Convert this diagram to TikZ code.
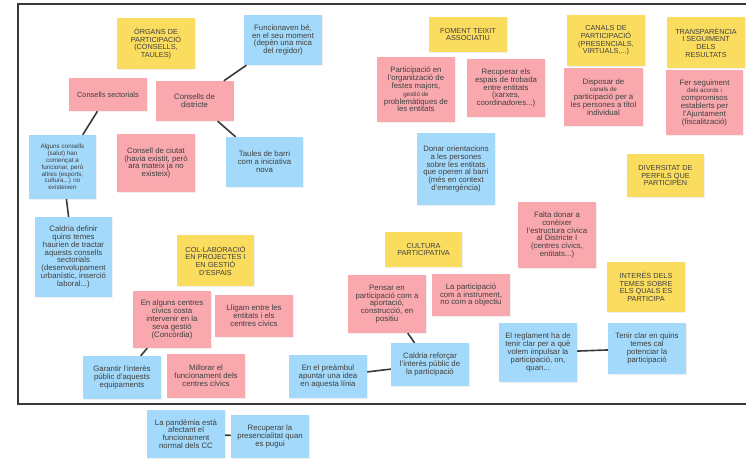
\documentclass[tikz,border=0pt]{standalone}
\usepackage{fontspec}
\setmainfont{Liberation Sans}
\usepackage{tikz}
\usetikzlibrary{shadows}
\definecolor{noteyellow}{HTML}{FADC5E}
\definecolor{notepink}{HTML}{F9A8AE}
\definecolor{noteblue}{HTML}{A3D9FA}
\definecolor{notetext}{HTML}{404040}
\definecolor{frameline}{HTML}{3A3A3A}
\newcommand{\smallline}[1]{{\fontsize{6.2}{7.7}\selectfont #1}}

\begin{document}
\begin{tikzpicture}[x=1pt, y=-1pt,
  postit/.style={minimum width=78, inner sep=1pt, align=center, text=notetext,
    font=\fontsize{7.8}{7.8}\selectfont,
    drop shadow={opacity=0.12, shadow xshift=0.6pt, shadow yshift=-0.8pt}},
  yelnote/.style={postit, fill=noteyellow, font=\fontsize{7.3}{7.6}\selectfont},
  pinknote/.style={postit, fill=notepink},
  bluenote/.style={postit, fill=noteblue},
  tinytext/.style={font=\fontsize{6.3}{6.8}\selectfont},
  link/.style={frameline, line width=1.6pt}]
\useasboundingbox (0,0) rectangle (746,459);
\clip (0,0) rectangle (746,459);
\draw[frameline, line width=1.6pt] (18,4) rectangle (760,404);

\node[yelnote, minimum height=51] (organs) at (156,43.5) {ÒRGANS DE\\PARTICIPACIÓ\\(CONSELLS,\\TAULES)};
\node[bluenote, minimum height=50] (funcionaven) at (283,40) {Funcionaven bé,\\en el seu moment\\(depèn una mica\\del regidor)};
\node[pinknote, minimum height=33, font=\fontsize{7.4}{7.8}\selectfont] (sectorials) at (108,94.5) {Consells sectorials};
\node[pinknote, minimum height=40] (districte) at (194.5,101) {Consells de\\districte};
\node[bluenote, minimum height=64, minimum width=67, tinytext] (alguns) at (62.5,167) {Alguns consells\\(salut) han\\començat a\\funcionar, però\\altres (esports,\\cultura...) no\\existeixen};
\node[pinknote, minimum height=58] (ciutat) at (156,163) {Consell de ciutat\\(havia existit, però\\ara mateix ja no\\existeix)};
\node[bluenote, minimum height=50, minimum width=77] (taules) at (264.5,162) {Taules de barri\\com a iniciativa\\nova};
\node[bluenote, minimum height=80, minimum width=77] (definir) at (73.5,257) {Caldria definir\\quins temes\\haurien de tractar\\aquests consells\\sectorials\\(desenvolupament\\urbanístic, inserció\\laboral...)};

\node[yelnote, minimum height=51, minimum width=77] (collab) at (215.5,260.5) {COL·LABORACIÓ\\EN PROJECTES I\\EN GESTIÓ\\D'ESPAIS};
\node[pinknote, minimum height=57] (centres) at (172,319.5) {En alguns centres\\cívics costa\\intervenir en la\\seva gestió\\(Concòrdia)};
\node[pinknote, minimum height=42] (lligam) at (254,316) {Lligam entre les\\entitats i els\\centres cívics};
\node[bluenote, minimum height=43] (garantir) at (122,377.5) {Garantir l'interès\\públic d'aquests\\equipaments};
\node[pinknote, minimum height=44] (millorar) at (206,376) {Millorar el\\funcionament dels\\centres cívics};

\node[yelnote, minimum height=35] (foment) at (468,34.5) {FOMENT TEIXIT\\ASSOCIATIU};
\node[pinknote, minimum height=65] (festes) at (416,89.5) {Participació en\\l'organització de\\festes majors,\\\smallline{gestió de}\\problemàtiques de\\les entitats};
\node[pinknote, minimum height=58] (espais) at (506,88) {Recuperar els\\espais de trobada\\entre entitats\\(xarxes,\\coordinadores...)};
\node[bluenote, minimum height=72] (orientacions) at (456,169) {Donar orientacions\\a les persones\\sobre les entitats\\que operen al barri\\(més en context\\d'emergència)};

\node[yelnote, minimum height=51] (canals) at (606,40.5) {CANALS DE\\PARTICIPACIÓ\\(PRESENCIALS,\\VIRTUALS,...)};
\node[pinknote, minimum height=58, minimum width=79] (disposar) at (603.5,97) {Disposar de\\\smallline{canals de}\\participació per a\\les persones a títol\\individual};
\node[yelnote, minimum height=51] (transparencia) at (706,42.5) {TRANSPARÈNCIA\\I SEGUIMENT\\DELS\\RESULTATS};
\node[pinknote, minimum height=65, minimum width=77] (seguiment) at (704.5,102.5) {Fer seguiment\\\smallline{dels acords i}\\compromisos\\establerts per\\l'Ajuntament\\(fiscalització)};
\node[yelnote, minimum height=43, minimum width=77] (diversitat) at (665.5,175.5) {DIVERSITAT DE\\PERFILS QUE\\PARTICIPEN};
\node[pinknote, minimum height=66] (falta) at (557,235) {Falta donar a\\conèixer\\l'estructura cívica\\al Districte I\\(centres cívics,\\entitats...)};
\node[yelnote, minimum height=50] (interes) at (646,287) {INTERÈS DELS\\TEMES SOBRE\\ELS QUALS ES\\PARTICIPA};

\node[yelnote, minimum height=35, minimum width=77] (cultura) at (423.5,249.5) {CULTURA\\PARTICIPATIVA};
\node[pinknote, minimum height=58] (pensar) at (387,304) {Pensar en\\participació com a\\aportació,\\construcció, en\\positiu};
\node[pinknote, minimum height=42] (instrument) at (471,295) {La participació\\com a instrument,\\no com a objectiu};
\node[bluenote, minimum height=43] (reforcar) at (430,364.5) {Caldria reforçar\\l'interès públic de\\la participació};
\node[bluenote, minimum height=43] (preambul) at (328,376.5) {En el preàmbul\\apuntar una idea\\en aquesta línia};
\node[bluenote, minimum height=59] (reglament) at (538,352.5) {El reglament ha de\\tenir clar per a què\\volem impulsar la\\participació, on,\\quan...};
\node[bluenote, minimum height=51] (tenirclar) at (647,348.5) {Tenir clar en quins\\temes cal\\potenciar la\\participació};

\node[bluenote, minimum height=48] (pandemia) at (186,434) {La pandèmia està\\afectant el\\funcionament\\normal dels CC};
\node[bluenote, minimum height=43] (presencialitat) at (270,436.5) {Recuperar la\\presencialitat quan\\es pugui};

\draw[link] (districte) -- (funcionaven);
\draw[link] (districte) -- (taules);
\draw[link] (sectorials) -- (alguns);
\draw[link] (alguns) -- (definir);
\draw[link] (centres) -- (garantir);
\draw[link] (pensar) -- (reforcar);
\draw[link] (preambul) -- (reforcar);
\draw[link] (reglament) -- (tenirclar);
\draw[link] (pandemia) -- (presencialitat);
\end{tikzpicture}
\end{document}
